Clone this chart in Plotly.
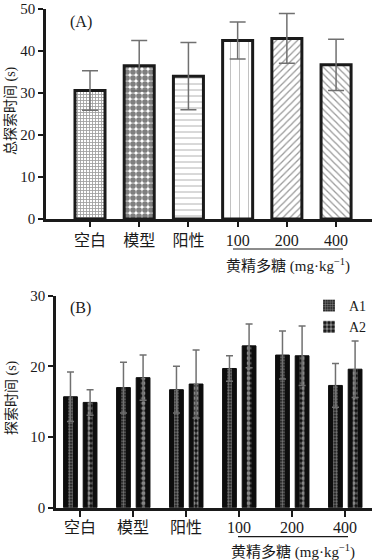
import plotly.graph_objects as go

# ---------------- data ----------------
groups = ["空白", "模型", "阳性", "100", "200", "400"]
total_mean = [30.6, 36.5, 34.0, 42.5, 43.0, 36.7]
total_sd = [4.7, 6.0, 8.0, 4.4, 5.9, 6.1]
a1_mean = [15.7, 17.0, 16.7, 19.7, 21.6, 17.3]
a1_sd = [3.5, 3.6, 3.3, 1.8, 3.4, 3.1]
a2_mean = [14.9, 18.4, 17.5, 22.9, 21.5, 19.6]
a2_sd = [1.8, 3.2, 4.8, 3.1, 4.2, 4.0]
yticks_a = [0, 10, 20, 30, 40, 50]
yticks_b = [0, 10, 20, 30]

W, H = 372, 560
FONT = "Liberation Serif, Noto Sans CJK SC, serif"
INK = "#1a1a1a"
ERR = "#707070"

def px(x):
    return x / W

def py(y):
    return 1 - y / H

fig = go.Figure()

# ---------------- panel A ----------------
fig.add_trace(go.Bar(
    x=groups, y=total_mean, width=0.61,
    xaxis="x", yaxis="y", showlegend=False,
    marker=dict(
        color="white",
        line=dict(color=INK, width=3),
        pattern=dict(
            shape=["+", ".", "-", "|", "/", "\\"],
            size=[3, 6, 6, 9, 5, 5],
            solidity=[0.5, 0.7, 0.15, 0.1, 0.25, 0.25],
            fgcolor=["#444", "#000", "#555", "#777", "#333", "#333"],
            bgcolor="white",
            fillmode="overlay",
        ),
    ),
    error_y=dict(type="data", array=total_sd, visible=True,
                 color=ERR, thickness=1.5, width=8),
))

# ---------------- panel B ----------------
fig.add_trace(go.Bar(
    x=groups, y=a1_mean, width=0.26, offset=-0.31,
    xaxis="x2", yaxis="y2", showlegend=False,
    marker=dict(color="#0d0d0d", line=dict(color="#0d0d0d", width=1)),
))
fig.add_trace(go.Bar(
    x=groups, y=a2_mean, width=0.26, offset=0.06,
    xaxis="x2", yaxis="y2", showlegend=False,
    marker=dict(color="#0d0d0d", line=dict(color="#0d0d0d", width=1)),
))
fig.add_trace(go.Bar(
    x=groups, y=a1_mean, width=0.09, offset=-0.225,
    xaxis="x2", yaxis="y2", name="A1", legendrank=1,
    marker=dict(color="#0d0d0d", line=dict(width=0),
                pattern=dict(shape=".", size=3, solidity=0.55,
                             fgcolor="#e8e8e8", bgcolor="#0d0d0d")),
    error_y=dict(type="data", array=a1_sd, visible=True,
                 color=ERR, thickness=1.5, width=3.5),
))
fig.add_trace(go.Bar(
    x=groups, y=a2_mean, width=0.09, offset=0.145,
    xaxis="x2", yaxis="y2", name="A2", legendrank=2,
    marker=dict(color="#0d0d0d", line=dict(width=0),
                pattern=dict(shape=".", size=5, solidity=0.6,
                             fgcolor="white", bgcolor="#0d0d0d")),
    error_y=dict(type="data", array=a2_sd, visible=True,
                 color=ERR, thickness=1.5, width=3.5),
))

axis_common = dict(showline=True, linecolor=INK, linewidth=2.5,
                   ticks="outside", tickcolor=INK, tickwidth=2,
                   showgrid=False, zeroline=False, automargin=False,
                   tickfont=dict(family=FONT, size=15, color=INK))

fig.update_layout(
    width=W, height=H,
    margin=dict(l=0, r=0, t=0, b=0, autoexpand=False),
    paper_bgcolor="white", plot_bgcolor="white",
    barmode="overlay",
    font=dict(family=FONT, color=INK),
    xaxis=dict(axis_common, domain=[px(46), 1], anchor="y",
               type="category", range=[-0.894, 5.73], ticklen=5,
               ticklabelstandoff=0, tickfont=dict(family=FONT, size=16, color=INK)),
    yaxis=dict(axis_common, domain=[py(219), py(9)], anchor="x",
               range=[0, 50], tickvals=yticks_a, ticklen=5),
    xaxis2=dict(axis_common, domain=[px(56), 1], anchor="y2",
                type="category", range=[-0.453, 5.509], ticklen=7,
                ticklabelstandoff=-4, tickfont=dict(family=FONT, size=16, color=INK)),
    yaxis2=dict(axis_common, domain=[py(507.7), py(295.7)], anchor="x2",
                range=[0, 30], tickvals=yticks_b, ticklen=5),
    legend=dict(x=1, xanchor="right", y=py(290), yanchor="top",
                bgcolor="rgba(0,0,0,0)", font=dict(family=FONT, size=14),
                tracegroupgap=0, itemwidth=30),
    shapes=[
        dict(type="line", xref="paper", yref="paper",
             x0=px(233), x1=px(343), y0=py(249), y1=py(249),
             line=dict(color=INK, width=1.2)),
        dict(type="line", xref="paper", yref="paper",
             x0=px(238), x1=px(348), y0=py(536.7), y1=py(536.7),
             line=dict(color=INK, width=1.2)),
    ],
    annotations=[
        dict(text="(A)", x=px(68), y=py(22), xref="paper", yref="paper",
             xanchor="left", yanchor="middle", showarrow=False,
             font=dict(family=FONT, size=16, color=INK)),
        dict(text="(B)", x=px(68), y=py(308), xref="paper", yref="paper",
             xanchor="left", yanchor="middle", showarrow=False,
             font=dict(family=FONT, size=16, color=INK)),
        dict(text="总探索时间 (s)", x=px(11), y=py(111), xref="paper", yref="paper",
             xanchor="center", yanchor="middle", textangle=-90, showarrow=False,
             font=dict(family=FONT, size=14, color=INK)),
        dict(text="探索时间 (s)", x=px(11), y=py(398), xref="paper", yref="paper",
             xanchor="center", yanchor="middle", textangle=-90, showarrow=False,
             font=dict(family=FONT, size=14, color=INK)),
        dict(text="黄精多糖 (mg·kg<sup>−1</sup>)", x=px(288), y=py(265),
             xref="paper", yref="paper", xanchor="center", yanchor="middle",
             showarrow=False, font=dict(family=FONT, size=15, color=INK)),
        dict(text="黄精多糖 (mg·kg<sup>−1</sup>)", x=px(293), y=py(551.5),
             xref="paper", yref="paper", xanchor="center", yanchor="middle",
             showarrow=False, font=dict(family=FONT, size=15, color=INK)),
    ],
)

fig.write_html("out.html", config={"displayModeBar": False},
               post_script="document.body.style.margin='0';document.body.style.overflow='hidden';")
